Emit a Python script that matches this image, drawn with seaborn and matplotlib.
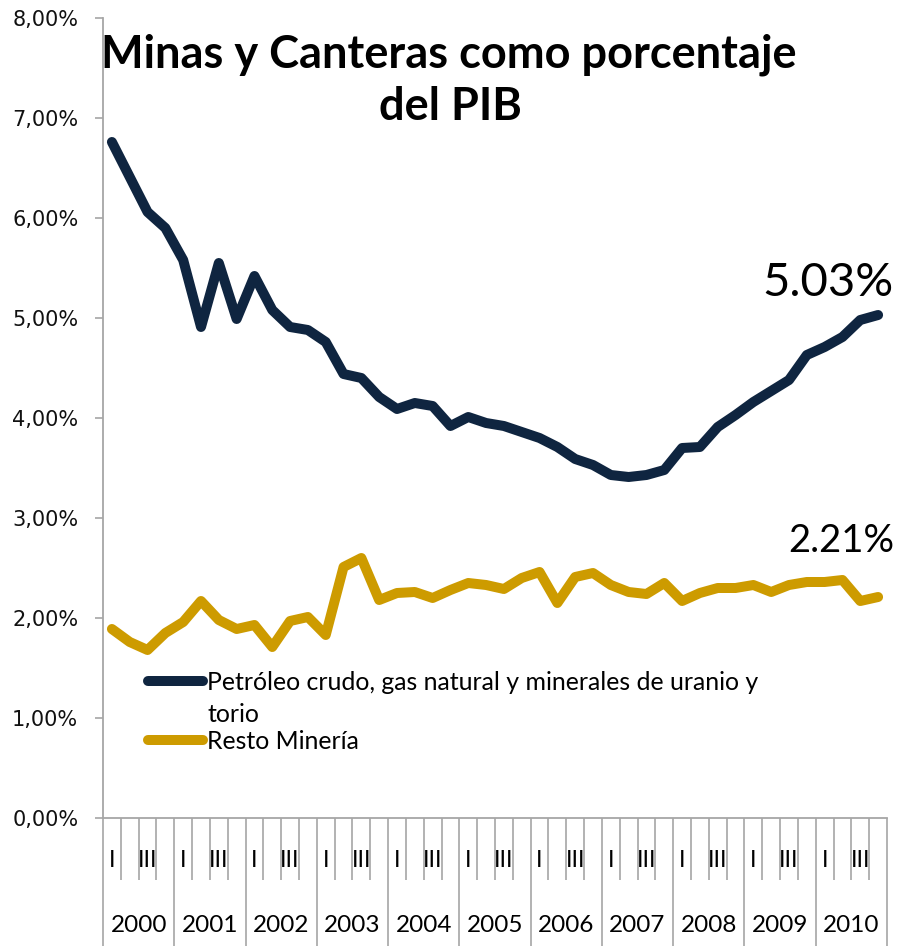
import numpy as np
import pandas as pd
import matplotlib
matplotlib.use("Agg")
import matplotlib.pyplot as plt
import seaborn as sns
from matplotlib.lines import Line2D
from matplotlib.transforms import blended_transform_factory
from matplotlib.ticker import FuncFormatter

years = [str(y) for y in range(2000, 2011)]
quarter_labels = ["I", "", "III", ""]
petroleo = [6.76, 6.41, 6.06, 5.90, 5.58, 4.91, 5.55, 4.99, 5.42, 5.08,
            4.91, 4.88, 4.76, 4.44, 4.40, 4.21, 4.09, 4.15, 4.12, 3.92,
            4.01, 3.95, 3.92, 3.86, 3.80, 3.71, 3.59, 3.53, 3.43, 3.41,
            3.43, 3.48, 3.70, 3.71, 3.91, 4.03, 4.16, 4.27, 4.38, 4.63,
            4.71, 4.81, 4.98, 5.03]
resto = [1.89, 1.76, 1.68, 1.85, 1.96, 2.17, 1.98, 1.89, 1.93, 1.71,
         1.97, 2.01, 1.83, 2.51, 2.60, 2.18, 2.25, 2.26, 2.20, 2.28,
         2.35, 2.33, 2.29, 2.40, 2.46, 2.15, 2.41, 2.45, 2.33, 2.26,
         2.24, 2.35, 2.17, 2.25, 2.30, 2.30, 2.33, 2.26, 2.33, 2.36,
         2.36, 2.38, 2.17, 2.21]
series_names = ["Petróleo crudo, gas natural y minerales de uranio y", "Resto Minería"]
legend_extra = "torio"
colors = ["#0F2540", "#CD9B00"]
last_labels = ["5.03%", "2.21%"]
title_lines = ["Minas y Canteras como porcentaje", "del PIB"]

sns.set_theme(style="white")
plt.rcParams["font.family"] = ["Lato", "DejaVu Sans"]

W, H = 898, 946
fig = plt.figure(figsize=(W / 100, H / 100), dpi=100)
ax = fig.add_axes([103 / W, 1 - 818 / H, 784 / W, 800 / H])

n = len(petroleo)
df = pd.DataFrame({
    "t": list(range(n)) * 2,
    "v": petroleo + resto,
    "serie": [series_names[0]] * n + [series_names[1]] * n,
})
sns.lineplot(data=df, x="t", y="v", hue="serie", palette=colors,
             linewidth=7.2, legend=False, ax=ax,
             solid_capstyle="round", solid_joinstyle="round")

gray = "#A6A6A6"
ax.set_xlim(-0.5, n - 0.5)
ax.set_ylim(0, 8)
ax.set_xlabel("")
ax.set_ylabel("")
for s in ["top", "right"]:
    ax.spines[s].set_visible(False)
for s in ["left", "bottom"]:
    ax.spines[s].set_color(gray)
    ax.spines[s].set_linewidth(1.3)

ax.set_yticks(np.arange(0, 9, 1))
ax.yaxis.set_major_formatter(FuncFormatter(lambda v, p: f"{v:.2f}%".replace(".", ",")))
ax.tick_params(axis="y", direction="out", length=5.8, width=1.2, color=gray,
               pad=12, labelsize=15, labelcolor="#111111",
               labelfontfamily="DejaVu Sans", left=True)

major = np.arange(-0.5, n, 4)
minor = [b for b in np.arange(-0.5, n, 1) if (b + 0.5) % 4 != 0]
ax.set_xticks(major)
ax.set_xticks(minor, minor=True)
ax.set_xticklabels([])
ax.tick_params(axis="x", which="major", direction="out", length=92, width=1.2,
               color=gray, bottom=True)
ax.tick_params(axis="x", which="minor", direction="out", length=44.6, width=1.2,
               color=gray, bottom=True)

tr = blended_transform_factory(ax.transData, ax.transAxes)
for yi, yl in enumerate(years):
    for qi, ql in enumerate(quarter_labels):
        if ql:
            ax.text(yi * 4 + qi, -0.0525, ql, transform=tr, ha="center",
                    va="center", fontsize=17, color="black")
    ax.text(yi * 4 + 1.5, -0.134, yl, transform=tr, ha="center", va="center",
            fontsize=17.5, color="black")

fig.text(449 / W, 1 - 68 / H, title_lines[0], ha="center", va="baseline",
         fontsize=32.5, fontweight="bold", color="black")
fig.text(450 / W, 1 - 120 / H, title_lines[1], ha="center", va="baseline",
         fontsize=32.5, fontweight="bold", color="black")

fig.text(894 / W, 1 - 296 / H, last_labels[0], ha="right", va="baseline",
         fontsize=34, color="black")
fig.text(894 / W, 1 - 552 / H, last_labels[1], ha="right", va="baseline",
         fontsize=27.5, color="black")

# legend
for c, yline in zip(colors, [681, 740]):
    fig.add_artist(Line2D([148 / W, 203 / W], [1 - yline / H, 1 - yline / H],
                          color=c, linewidth=7.2, solid_capstyle="round"))
fig.text(207 / W, 1 - 690 / H, series_names[0], ha="left", va="baseline",
         fontsize=17.9, color="black")
fig.text(207 / W, 1 - 722 / H, legend_extra, ha="left", va="baseline",
         fontsize=17.9, color="black")
fig.text(207 / W, 1 - 749 / H, series_names[1], ha="left", va="baseline",
         fontsize=17.9, color="black")

fig.savefig("out.png", dpi=100)
